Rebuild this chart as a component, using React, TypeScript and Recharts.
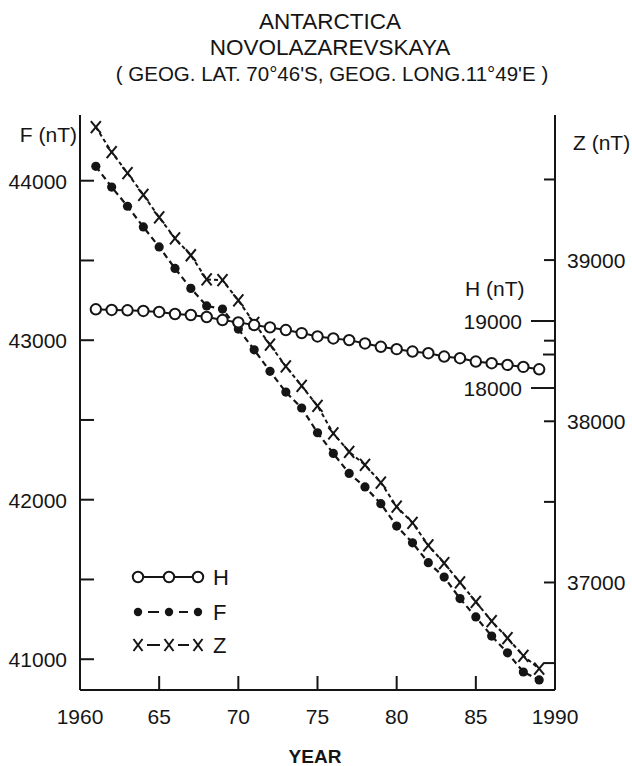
import React from "react"
import { LineChart, Line, XAxis, YAxis } from "recharts"

const INK = "#151515"
const FONT = "'Liberation Sans', Arial, sans-serif"

// yearly values
const years = [
  1961, 1962, 1963, 1964, 1965, 1966, 1967, 1968, 1969, 1970, 1971, 1972, 1973, 1974, 1975,
  1976, 1977, 1978, 1979, 1980, 1981, 1982, 1983, 1984, 1985, 1986, 1987, 1988, 1989,
]
const hValues = [
  19175, 19165, 19160, 19150, 19135, 19105, 19090, 19060, 19015, 18980, 18940, 18905, 18865, 18820, 18770,
  18740, 18715, 18665, 18615, 18580, 18545, 18520, 18470, 18445, 18395, 18370, 18345, 18315, 18280,
]
const fValues = [
  44090, 43960, 43840, 43710, 43585, 43450, 43325, 43215, 43195, 43070, 42940, 42805, 42675, 42575, 42420,
  42290, 42165, 42080, 41975, 41835, 41730, 41605, 41515, 41380, 41265, 41145, 41040, 40920, 40870,
]
const zValues = [
  39825, 39670, 39540, 39405, 39265, 39135, 39030, 38880, 38875, 38750, 38610, 38475, 38340, 38220, 38095,
  37925, 37810, 37730, 37620, 37470, 37370, 37230, 37120, 37000, 36880, 36760, 36655, 36545, 36465,
]

const yearTicks = [1960, 1965, 1970, 1975, 1980, 1985, 1990]
const fTicks = [41000, 41500, 42000, 42500, 43000, 43500, 44000]
const zTicks = [36500, 37000, 37500, 38000, 38500, 39000, 39500]
const hTicks = [18000, 18500, 19000]

const rows = years.map((year, i) => ({ year, H: hValues[i], F: fValues[i], Z: zValues[i] }))

const YearTick = (p: any) => {
  const v = p.payload.value
  const label = v === 1960 || v === 1990 ? String(v) : String(v).slice(2)
  return (
    <g>
      {v !== 1960 && v !== 1990 && (
        <line x1={p.x} x2={p.x} y1={p.y} y2={p.y - 14} stroke={INK} strokeWidth={2} />
      )}
      <text x={p.x} y={p.y + 34} textAnchor="middle" fontSize={21} fontFamily={FONT} fill={INK}>
        {label}
      </text>
    </g>
  )
}

const FTick = (p: any) => {
  const v = p.payload.value
  return (
    <g>
      <line x1={p.x} x2={p.x + 14} y1={p.y} y2={p.y} stroke={INK} strokeWidth={2} />
      {v % 1000 === 0 && (
        <text x={p.x - 13} y={p.y + 8} textAnchor="end" fontSize={21} fontFamily={FONT} fill={INK}>
          {v}
        </text>
      )}
    </g>
  )
}

const ZTick = (p: any) => {
  const v = p.payload.value
  return (
    <g>
      <line x1={p.x} x2={p.x - 11} y1={p.y} y2={p.y} stroke={INK} strokeWidth={2} />
      {v % 1000 === 0 && (
        <text x={p.x + 12} y={p.y + 8} textAnchor="start" fontSize={21} fontFamily={FONT} fill={INK}>
          {v}
        </text>
      )}
    </g>
  )
}

const HTick = (p: any) => {
  const v = p.payload.value
  const major = v % 1000 === 0
  return (
    <g>
      <line x1={p.x} x2={p.x - (major ? 24 : 12)} y1={p.y} y2={p.y} stroke={INK} strokeWidth={2} />
      {major && (
        <text x={p.x - 33} y={p.y + 8} textAnchor="end" fontSize={21} fontFamily={FONT} fill={INK}>
          {v}
        </text>
      )}
    </g>
  )
}

const circleDot = (p: any) => (
  <circle key={`h-${p.index}`} cx={p.cx} cy={p.cy} r={5.2} fill="#fff" stroke={INK} strokeWidth={2} />
)
const fillDot = (p: any) => <circle key={`f-${p.index}`} cx={p.cx} cy={p.cy} r={4.6} fill={INK} />
const crossDot = (p: any) => (
  <g key={`z-${p.index}`}>
    <line x1={p.cx - 5} y1={p.cy - 6} x2={p.cx + 5} y2={p.cy + 6} stroke={INK} strokeWidth={2} />
    <line x1={p.cx + 5} y1={p.cy - 6} x2={p.cx - 5} y2={p.cy + 6} stroke={INK} strokeWidth={2} />
  </g>
)

const legendX = [138, 169, 198]

export default function App() {
  return (
    <div style={{ position: "absolute", left: 0, top: 0, width: 632, height: 766, background: "#fff" }}>
      <LineChart width={632} height={766} data={rows} margin={{ top: 115, right: 7, bottom: 0, left: 20 }}>
        <XAxis
          type="number"
          dataKey="year"
          domain={[1960, 1990]}
          ticks={yearTicks}
          interval={0}
          height={76}
          tickSize={0}
          tickMargin={0}
          tickLine={false}
          axisLine={{ stroke: INK, strokeWidth: 2 }}
          tick={(p: any) => <YearTick {...p} />}
        />
        <YAxis
          yAxisId="F"
          orientation="left"
          width={60}
          domain={[40807, 44412]}
          allowDataOverflow
          ticks={fTicks}
          interval={0}
          tickSize={0}
          tickMargin={0}
          tickLine={false}
          axisLine={{ stroke: INK, strokeWidth: 2 }}
          tick={(p: any) => <FTick {...p} />}
        />
        <YAxis
          yAxisId="Z"
          orientation="right"
          width={70}
          domain={[36333, 39900]}
          allowDataOverflow
          ticks={zTicks}
          interval={0}
          tickSize={0}
          tickMargin={0}
          tickLine={false}
          axisLine={{ stroke: INK, strokeWidth: 2 }}
          tick={(p: any) => <ZTick {...p} />}
        />
        <YAxis
          yAxisId="H"
          orientation="right"
          mirror
          domain={[13493, 22075]}
          allowDataOverflow
          ticks={hTicks}
          interval={0}
          tickSize={0}
          tickMargin={0}
          tickLine={false}
          axisLine={false}
          tick={(p: any) => <HTick {...p} />}
        />
        <Line
          yAxisId="F"
          dataKey="F"
          type="linear"
          stroke={INK}
          strokeWidth={2.2}
          strokeDasharray="6 4"
          dot={fillDot}
          isAnimationActive={false}
        />
        <Line
          yAxisId="Z"
          dataKey="Z"
          type="linear"
          stroke={INK}
          strokeWidth={2}
          strokeDasharray="4 3"
          dot={crossDot}
          isAnimationActive={false}
        />
        <Line
          yAxisId="H"
          dataKey="H"
          type="linear"
          stroke={INK}
          strokeWidth={2}
          dot={circleDot}
          isAnimationActive={false}
        />
      </LineChart>

      <svg
        width={632}
        height={766}
        style={{ position: "absolute", left: 0, top: 0, pointerEvents: "none" }}
        fontFamily={FONT}
        fill={INK}
      >
        <text x={330} y={29} textAnchor="middle" fontSize={22.5}>ANTARCTICA</text>
        <text x={330} y={55} textAnchor="middle" fontSize={22.5}>NOVOLAZAREVSKAYA</text>
        <text x={332} y={81} textAnchor="middle" fontSize={20.5}>
          ( GEOG. LAT. 70°46'S, GEOG. LONG.11°49'E )
        </text>

        <text x={77} y={142} textAnchor="end" fontSize={21}>F (nT)</text>
        <text x={573} y={150} fontSize={21}>Z (nT)</text>
        <text x={465} y={296} fontSize={21}>H (nT)</text>
        <text x={315} y={763} textAnchor="middle" fontSize={19} fontWeight="bold">YEAR</text>

        {/* legend */}
        <line x1={legendX[0]} x2={legendX[2]} y1={577} y2={577} stroke={INK} strokeWidth={2} />
        {legendX.map((x) => (
          <circle key={`lh${x}`} cx={x} cy={577} r={5.2} fill="#fff" stroke={INK} strokeWidth={2} />
        ))}
        <text x={213} y={585} fontSize={22}>H</text>

        {legendX.map((x, i) => (
          <g key={`lf${x}`}>
            <circle cx={x} cy={612} r={4.2} fill={INK} />
            {i < 2 && <line x1={x + 10} x2={legendX[i + 1] - 10} y1={612} y2={612} stroke={INK} strokeWidth={2} />}
          </g>
        ))}
        <text x={213} y={620} fontSize={22}>F</text>

        {legendX.map((x, i) => (
          <g key={`lz${x}`}>
            <line x1={x - 4.5} y1={639} x2={x + 4.5} y2={651} stroke={INK} strokeWidth={2} />
            <line x1={x + 4.5} y1={639} x2={x - 4.5} y2={651} stroke={INK} strokeWidth={2} />
            {i < 2 && <line x1={x + 9} x2={legendX[i + 1] - 9} y1={645} y2={645} stroke={INK} strokeWidth={2} />}
          </g>
        ))}
        <text x={213} y={653} fontSize={22}>Z</text>
      </svg>
    </div>
  )
}
